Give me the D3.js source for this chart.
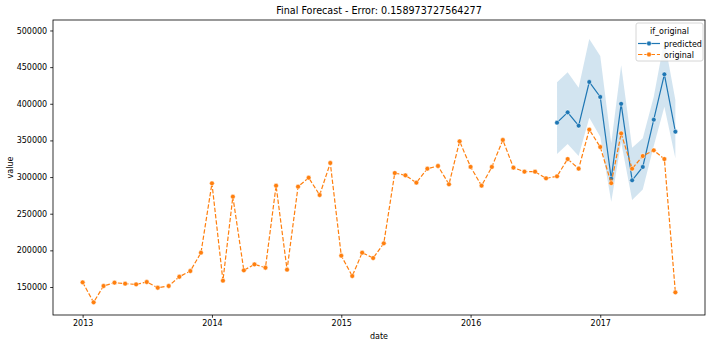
<!DOCTYPE html>
<html>
<head>
<meta charset="utf-8">
<script src="https://cdn.jsdelivr.net/npm/d3@7"></script>
<style>
  body { margin: 0; background: #fff; }
  svg { display: block; font-family: "DejaVu Sans", sans-serif; }
</style>
</head>
<body>
<svg id="chart" width="720" height="346"></svg>
<script>
// ---- data ----
const originalStart = "2013-01";
const originalValues = [
  156400, 129100, 151400, 155900, 154500, 153600, 156800, 149000, 151400, 164000, 171800, 196800,
  291500, 158600, 273200, 172700, 180900, 176300, 288200, 173600, 286900, 299100, 275500, 319200,
  192700, 165000, 196800, 189500, 209600, 305500, 302400, 292300, 311400, 315100, 290100, 348800,
  313900, 288200, 313800, 350600, 312800, 307300, 307300, 298300, 301000, 324600, 311400, 364700,
  341000, 291700, 359500, 311400, 328700, 336500, 324600, 142700
];
const predictedStart = "2016-09";
const predictedValues = [374200, 388300, 370100, 429700, 409300, 297800, 399900, 295600, 313800, 378300, 440200, 361900];
const predictedUpper  = [429300, 443000, 422000, 488400, 465200, 346100, 452500, 340100, 352900, 409700, 487000, 405000];
const predictedLower  = [331500, 345100, 328700, 381000, 355100, 266400, 347400, 268700, 283000, 342400, 396000, 325600];
const yTicks = [150000, 200000, 250000, 300000, 350000, 400000, 450000, 500000];
const xTickYears = [2013, 2014, 2015, 2016, 2017];
const legendTitle = "if_original";
const seriesNames = ["predicted", "original"];
const titleText = "Final Forecast - Error: 0.158973727564277";

// ---- build ----
function monthSeq(start, n) {
  const [y, m] = start.split("-").map(Number);
  return d3.range(n).map(i => new Date(Date.UTC(y, m - 1 + i, 1)));
}
const origDates = monthSeq(originalStart, originalValues.length);
const predDates = monthSeq(predictedStart, predictedValues.length);
const original = origDates.map((d, i) => ({date: d, value: originalValues[i]}));
const predicted = predDates.map((d, i) => ({date: d, value: predictedValues[i], lo: predictedLower[i], hi: predictedUpper[i]}));

const blue = "#1f77b4", orange = "#ff7f0e";
const L = 53, R = 705, T = 20, B = 315;
const svg = d3.select("#chart");

const t0 = origDates[0].getTime(), t1 = origDates[origDates.length - 1].getTime();
const pad = (t1 - t0) * 0.05;
const x = d3.scaleUtc().domain([new Date(t0 - pad), new Date(t1 + pad)]).range([L, R]);
const y = d3.scaleLinear().domain([111800, 514300]).range([B, T]);

// band
svg.append("path")
  .datum(predicted)
  .attr("fill", blue).attr("fill-opacity", 0.2).attr("stroke", "none")
  .attr("d", d3.area().x(d => x(d.date)).y0(d => y(d.lo)).y1(d => y(d.hi)));

// predicted line
svg.append("path")
  .datum(predicted)
  .attr("fill", "none").attr("stroke", blue).attr("stroke-width", 1.2)
  .attr("d", d3.line().x(d => x(d.date)).y(d => y(d.value)));
svg.append("g").selectAll("circle").data(predicted).join("circle")
  .attr("cx", d => x(d.date)).attr("cy", d => y(d.value)).attr("r", 2.4)
  .attr("fill", blue).attr("stroke", "#fff").attr("stroke-width", 0.5);

// original line
svg.append("path")
  .datum(original)
  .attr("fill", "none").attr("stroke", orange).attr("stroke-width", 1.2)
  .attr("stroke-dasharray", "4.4,1.9")
  .attr("d", d3.line().x(d => x(d.date)).y(d => y(d.value)));
svg.append("g").selectAll("circle").data(original).join("circle")
  .attr("cx", d => x(d.date)).attr("cy", d => y(d.value)).attr("r", 2.4)
  .attr("fill", orange).attr("stroke", "#fff").attr("stroke-width", 0.5);

// axes
const xAxis = d3.axisBottom(x)
  .tickValues(xTickYears.map(yr => new Date(Date.UTC(yr, 0, 1))))
  .tickFormat(d3.utcFormat("%Y")).tickSize(2.8).tickPadding(3);
const gx = svg.append("g").attr("transform", `translate(0,${B})`).call(xAxis);
const yAxis = d3.axisLeft(y).tickValues(yTicks).tickFormat(d3.format("d")).tickSize(2.8).tickPadding(3);
const gy = svg.append("g").attr("transform", `translate(${L},0)`).call(yAxis);
[gx, gy].forEach(g => {
  g.select(".domain").remove();
  g.selectAll(".tick line").attr("stroke", "#000").attr("stroke-width", 0.8);
  g.selectAll(".tick text").attr("fill", "#000").style("font-size", "8px").style("font-family", "DejaVu Sans");
});

// spines
svg.append("rect").attr("x", L).attr("y", T).attr("width", R - L).attr("height", B - T)
  .attr("fill", "none").attr("stroke", "#000").attr("stroke-width", 0.8);

// labels
svg.append("text").attr("x", (L + R) / 2).attr("y", 14).attr("text-anchor", "middle")
  .style("font-size", "9.6px").attr("fill", "#000").text(titleText);
svg.append("text").attr("x", (L + R) / 2).attr("y", 339).attr("text-anchor", "middle")
  .style("font-size", "8px").attr("fill", "#000").text("date");
svg.append("text").attr("transform", `translate(13,${(T + B) / 2}) rotate(-90)`).attr("text-anchor", "middle")
  .style("font-size", "8px").attr("fill", "#000").text("value");

// legend
const lg = svg.append("g").attr("transform", "translate(636,23)");
lg.append("rect").attr("width", 67).attr("height", 38).attr("rx", 2)
  .attr("fill", "#fff").attr("fill-opacity", 0.8).attr("stroke", "#ccc").attr("stroke-width", 0.8);
lg.append("text").attr("x", 33.5).attr("y", 11).attr("text-anchor", "middle")
  .style("font-size", "8px").attr("fill", "#000").text(legendTitle);
const colors = [blue, orange];
seriesNames.forEach((name, i) => {
  const yy = 20.5 + i * 11;
  const ln = lg.append("line").attr("x1", 2).attr("x2", 24).attr("y1", yy).attr("y2", yy)
    .attr("stroke", colors[i]).attr("stroke-width", 1.2);
  if (i === 1) ln.attr("stroke-dasharray", "4.4,1.9");
  lg.append("circle").attr("cx", 13).attr("cy", yy).attr("r", 2.4).attr("fill", colors[i])
    .attr("stroke", "#fff").attr("stroke-width", 0.5);
  lg.append("text").attr("x", 28).attr("y", yy + 3).style("font-size", "8px").attr("fill", "#000").text(name);
});
</script>
</body>
</html>
